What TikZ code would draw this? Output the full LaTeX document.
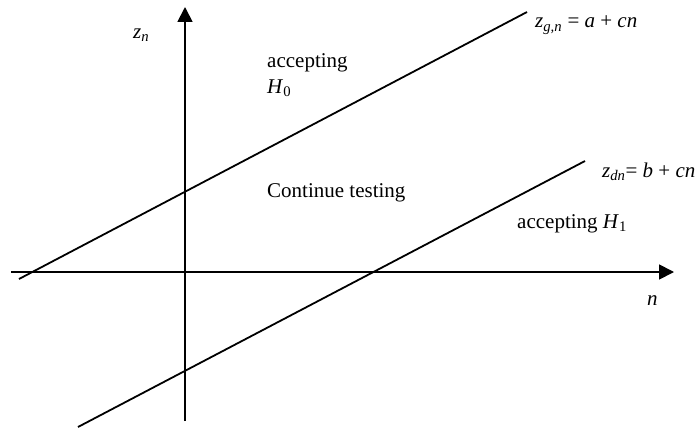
\documentclass[tikz,border=0pt]{standalone}
\usepackage{fontspec}
\setmainfont{Liberation Serif}
\usetikzlibrary{arrows.meta}
\tikzset{
  axis/.style={line width=1.8pt, -{Triangle[length=15pt,width=15pt]}},
  bound/.style={line width=1.8pt},
  lbl/.style={inner sep=0pt, anchor=base west, font=\fontsize{21}{25}\selectfont}
}
\newcommand\itsub[1]{\textsubscript{\itshape #1}}
\begin{document}
\begin{tikzpicture}[x=1pt,y=-1pt]
\useasboundingbox (0,0) rectangle (700,428);
% axes
\coordinate (vb) at (185,421);
\coordinate (vt) at (185,7);
\coordinate (hl) at (11,272);
\coordinate (hr) at (674,272);
\draw[axis] (vb) -- (vt);
\draw[axis] (hl) -- (hr);
% boundary lines
\coordinate (g1) at (19,279);
\coordinate (g2) at (527,12);
\coordinate (d1) at (78,427);
\coordinate (d2) at (585,161);
\draw[bound] (g1) -- (g2);
\draw[bound] (d1) -- (d2);
% labels
\node[lbl] (zn) at (133,38) {\textit{z}\itsub{n}};
\node[lbl] (n) at (647,305) {\textit{n}};
\node[lbl] (acc0) at (267,67) {accepting};
\node[lbl] (h0) at (267,93) {\textit{H}\textsubscript{0}};
\node[lbl] (cont) at (267,197) {Continue testing};
\node[lbl] (acc1) at (517,228) {accepting \textit{H}\textsubscript{1}};
\node[lbl] (zg) at (535,28) {\textit{z}\itsub{g,n} = \textit{a} + \textit{cn}};
\node[lbl] (zd) at (602,177) {\textit{z}\itsub{dn}= \textit{b} + \textit{cn}};
\end{tikzpicture}
\end{document}
